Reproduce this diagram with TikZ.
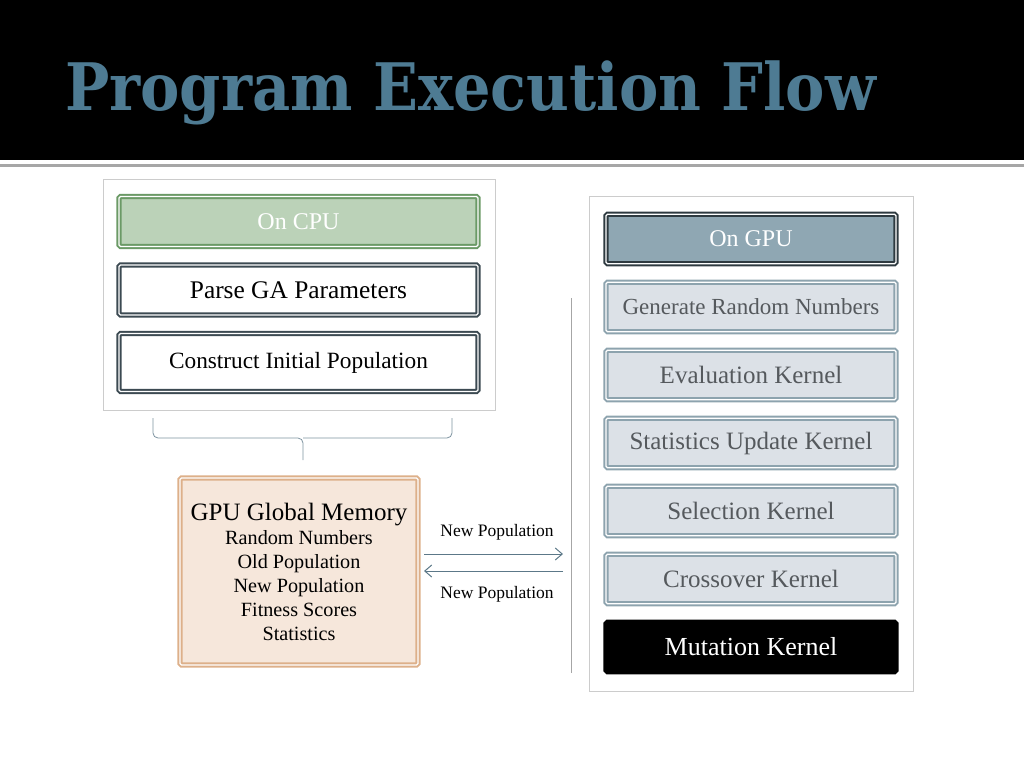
\documentclass[tikz,border=0pt]{standalone}
\usepackage{fontspec}
\setmainfont{Liberation Serif}
\newfontfamily\titlefont{DejaVu Serif Condensed}
\usetikzlibrary{positioning, arrows.meta}
\definecolor{titleblue}{HTML}{4E7B93}
\definecolor{cpufill}{HTML}{BBD2B8}
\definecolor{cpuline}{HTML}{6B9A66}
\definecolor{darkline}{HTML}{3C4A52}
\definecolor{gpufill}{HTML}{8FA7B3}
\definecolor{gpuline}{HTML}{2E3A40}
\definecolor{kernfill}{HTML}{DCE1E7}
\definecolor{kernline}{HTML}{8DA3AE}
\definecolor{kerntext}{HTML}{55595D}
\definecolor{memfill}{HTML}{F6E7DB}
\definecolor{memline}{HTML}{DDB08A}
\definecolor{flowline}{HTML}{5C7888}
\tikzset{
	>={Straight Barb[length=7pt, width=12pt]}, % open arrow heads
	node distance=16.5pt, % gap between two stacked boxes
	frame/.style={draw=black!20, line width=0.8pt}, % the light outer panels
	box/.style={draw=darkline, double=white, double distance=1.2pt, line width=2pt,
		rounded corners=1.5pt, fill=white, minimum width=359, minimum height=50,
		inner sep=2pt, font=\fontsize{25.4}{28}\selectfont}, % left column boxes
	kernel/.style={box, draw=kernline, fill=kernfill, text=kerntext, minimum width=290,
		minimum height=49.5, font=\fontsize{25}{28}\selectfont}, % right column boxes
	flow/.style={draw=flowline, line width=1pt}, % the two transfer arrows
	brace/.style={draw=flowline!80, line width=0.8pt, rounded corners=5pt},
}
\begin{document}
\begin{tikzpicture}[x=1pt, y=-1pt]
	\useasboundingbox (0,0) rectangle (1024,768);
	% header bar
	\fill[black] (0,0) rectangle (1024,160);
	\draw[black!35, line width=3pt] (0,165) -- (1024,165);
	\node[anchor=base west, inner sep=0, text=titleblue,
		font=\titlefont\bfseries\fontsize{65.5}{70}\selectfont] (title) at (65,110) {Program Execution Flow};

	% left panel
	\node[frame, minimum width=392, minimum height=231] (cpupanel) at (299,294.5) {};
	\node[box, draw=cpuline, fill=cpufill, text=white, font=\fontsize{24}{28}\selectfont] (cpu) at (298.5,221.5) {On CPU};
	\node[box, below=of cpu] (parse) {Parse GA Parameters};
	\node[box, below=of parse, minimum height=58, font=\fontsize{23.3}{26}\selectfont] (init) {Construct Initial Population};
	\draw[brace] (153,418) -- (153,438) -- (303,438) -- (303,460);
	\draw[brace] (452,418) -- (452,438) -- (303,438);

	% memory
	\node[box, draw=memline, fill=memfill, minimum width=238, minimum height=187, align=center,
		font=\fontsize{20.2}{24}\selectfont] (mem) at (299,571.5)
		{{\fontsize{25}{28}\selectfont GPU Global Memory}\\Random Numbers\\Old Population\\New Population\\Fitness Scores\\Statistics};
	\coordinate (to) at (563,554);
	\coordinate (from) at (563,571);
	\draw[flow, ->, shorten <=5pt] (mem.east |- to) -- (to)
		node[midway, above=10pt, xshift=6pt, font=\fontsize{17.5}{19}\selectfont] (lbl1) {New Population};
	\draw[flow, ->, shorten >=5pt] (from) -- (mem.east |- from)
		node[midway, below=12pt, xshift=6pt, font=\fontsize{17.5}{19}\selectfont] (lbl2) {New Population};
	\draw[black!35, line width=0.8pt] (571,298) -- (571,673);

	% right panel
	\node[frame, minimum width=324, minimum height=495] (gpupanel) at (751,443.5) {};
	\node[kernel, draw=gpuline, fill=gpufill, text=white, font=\fontsize{24}{28}\selectfont] (gpu) at (751,239) {On GPU};
	\node[kernel, below=of gpu, font=\fontsize{23}{26}\selectfont] (rng) {Generate Random Numbers};
	\node[kernel, below=of rng] (eval) {Evaluation Kernel};
	\node[kernel, below=of eval] (stats) {Statistics Update Kernel};
	\node[kernel, below=of stats] (sel) {Selection Kernel};
	\node[kernel, below=of sel] (cross) {Crossover Kernel};
	\node[kernel, below=of cross, draw=black, fill=black, text=white, double=black,
		font=\fontsize{26}{28}\selectfont] (mut) {Mutation Kernel};
\end{tikzpicture}
\end{document}
